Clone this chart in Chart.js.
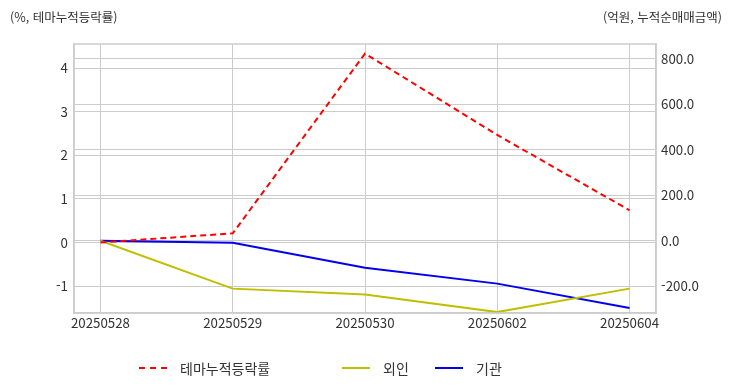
<!DOCTYPE html>
<html lang="ko">
  <head>
    <meta charset="UTF-8" />
    <title>테마누적등락률</title>
    <script src="https://cdn.jsdelivr.net/npm/chart.js"></script>
    <style>
      body {
        margin: 0;
        background: #ffffff;
        font-family: "Noto Sans CJK KR", "Noto Sans", sans-serif;
        color: #333333;
      }
      .wrap {
        position: relative;
        width: 732px;
        height: 392px;
      }
      .axis-title {
        position: absolute;
        top: 7px;
        font-size: 12.5px;
        color: #333333;
      }
      .legend {
        position: absolute;
        top: 358px;
        font-size: 14px;
        display: flex;
        align-items: center;
      }
      .legend .mark {
        display: inline-block;
        width: 28px;
        height: 0;
        border-top: 2px solid;
        margin-right: 13px;
      }
    </style>
  </head>
  <body>
    <div class="wrap">
      <canvas id="themeChart" width="732" height="392"></canvas>
      <div class="axis-title" style="left: 10px">(%, 테마누적등락률)</div>
      <div class="axis-title" style="right: 10px">(억원, 누적순매매금액)</div>
      <div class="legend" style="left: 139px">
        <span class="mark" style="border-top: 2px dashed #ff0000"></span>테마누적등락률
      </div>
      <div class="legend" style="left: 342px">
        <span class="mark" style="border-color: #bfbf00"></span>외인
      </div>
      <div class="legend" style="left: 435px">
        <span class="mark" style="border-color: #0000ee"></span>기관
      </div>
    </div>
    <script>
      const dates = ["20250528", "20250529", "20250530", "20250602", "20250604"];
      const themeRate = [0, 0.21, 4.34, 2.47, 0.74];
      const foreignNet = [0, -210, -236, -313, -210];
      const institutionNet = [0, -9, -118, -188, -295];
      const leftTicks = [-1, 0, 1, 2, 3, 4];
      const rightTicks = [-200, 0, 200, 400, 600, 800];

      const gridColor = "#cccccc";
      const tickFont = { family: "Noto Sans CJK KR, Noto Sans, sans-serif", size: 13.3 };

      function toPoints(values) {
        return values.map((v, i) => ({ x: i, y: v }));
      }

      // box round the plot area (chart.js has no top border of its own)
      const frame = {
        id: "frame",
        afterDraw(chart) {
          const { ctx, chartArea } = chart;
          ctx.save();
          ctx.strokeStyle = gridColor;
          ctx.lineWidth = 1.5;
          ctx.strokeRect(chartArea.left, chartArea.top, chartArea.right - chartArea.left, chartArea.bottom - chartArea.top);
          ctx.restore();
        },
      };

      new Chart(document.getElementById("themeChart"), {
        type: "line",
        data: {
          datasets: [
            {
              label: "테마누적등락률",
              data: toPoints(themeRate),
              yAxisID: "y",
              borderColor: "#ff0000",
              borderDash: [6, 4],
              borderWidth: 2,
              pointRadius: 0,
            },
            {
              label: "외인",
              data: toPoints(foreignNet),
              yAxisID: "y1",
              borderColor: "#bfbf00",
              borderWidth: 2,
              pointRadius: 0,
            },
            {
              label: "기관",
              data: toPoints(institutionNet),
              yAxisID: "y1",
              borderColor: "#0000ee",
              borderWidth: 2,
              pointRadius: 0,
            },
          ],
        },
        options: {
          responsive: false,
          animation: false,
          layout: { padding: { top: 44, left: 0, right: 0, bottom: 0 } },
          plugins: {
            legend: { display: false },
            tooltip: { enabled: false },
          },
          scales: {
            x: {
              type: "linear",
              min: -0.2,
              max: 4.2,
              afterBuildTicks: (axis) => {
                axis.ticks = dates.map((d, i) => ({ value: i }));
              },
              afterFit: (axis) => {
                axis.height = 79;
              },
              ticks: {
                color: "#333333",
                font: tickFont,
                padding: 2,
                maxRotation: 0,
                autoSkip: false,
                callback: (v) => dates[v],
              },
              grid: { color: gridColor, drawTicks: false },
              border: { color: gridColor, width: 1.5 },
            },
            y: {
              position: "left",
              min: -1.62,
              max: 4.56,
              afterBuildTicks: (axis) => {
                axis.ticks = leftTicks.map((v) => ({ value: v }));
              },
              afterFit: (axis) => {
                axis.width = 74;
              },
              ticks: {
                color: "#333333",
                font: tickFont,
                padding: 6,
                callback: (v) => String(v),
              },
              grid: { color: gridColor, drawTicks: false },
              border: { color: gridColor, width: 1.5 },
            },
            y1: {
              position: "right",
              min: -317,
              max: 864,
              afterBuildTicks: (axis) => {
                axis.ticks = rightTicks.map((v) => ({ value: v }));
              },
              afterFit: (axis) => {
                axis.width = 76;
              },
              ticks: {
                color: "#333333",
                font: tickFont,
                padding: 5,
                callback: (v) => v.toFixed(1),
              },
              grid: { color: gridColor, drawTicks: false },
              border: { color: gridColor, width: 1.5 },
            },
          },
        },
        plugins: [frame],
      });
    </script>
  </body>
</html>
